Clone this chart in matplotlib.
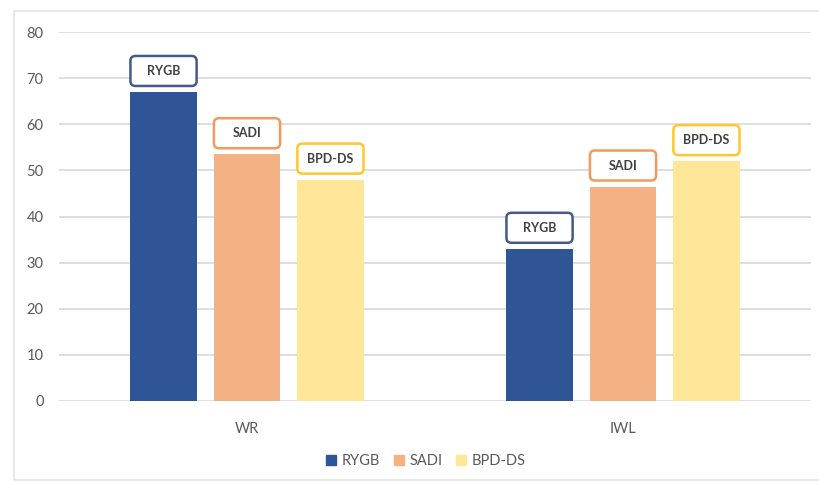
import matplotlib
matplotlib.use("Agg")
import matplotlib.pyplot as plt
from matplotlib.patches import FancyBboxPatch, Rectangle
import numpy as np

plt.rcParams['font.family'] = ['Lato', 'DejaVu Sans']

categories = ["WR", "IWL"]
series = ["RYGB", "SADI", "BPD-DS"]
values = {
    "RYGB": [67, 33],
    "SADI": [53.5, 46.5],
    "BPD-DS": [48, 52],
}
yticks = [0, 10, 20, 30, 40, 50, 60, 70, 80]

fill_colors = {"RYGB": "#2F5597", "SADI": "#F4B183", "BPD-DS": "#FFE699"}
edge_colors = {"RYGB": "#46598A", "SADI": "#F19A5C", "BPD-DS": "#FFC72C"}

W, H = 819, 484
fig = plt.figure(figsize=(W / 100, H / 100), dpi=100)

# light outer frame of the chart area
fig.patches.append(Rectangle((14 / W, 1 - 480 / H), (W + 10 - 14) / W, (480 - 11) / H,
                             transform=fig.transFigure, fill=False,
                             edgecolor="#E3E3E3", linewidth=1.2))

ax = fig.add_axes([59 / W, 1 - 401 / H, (811 - 59) / W, (401 - 32) / H])
ax.set_xlim(-0.5, 1.5)
ax.set_ylim(0, 80)

x = np.arange(len(categories))
step = 0.222
width = 0.176
offsets = [-step, 0, step]

for s, off in zip(series, offsets):
    ax.bar(x + off, values[s], width=width, color=fill_colors[s], zorder=3)

for spine in ax.spines.values():
    spine.set_visible(False)
ax.set_yticks(yticks)
ax.yaxis.grid(True, color="#D9D9D9", linewidth=1.2, zorder=0)
ax.tick_params(axis="both", length=0, labelsize=10.5, labelcolor="#595959")
ax.tick_params(axis="y", pad=11)
ax.tick_params(axis="x", pad=15)
ax.set_xticks(x)
ax.set_xticklabels(categories)

# rounded name boxes above each bar
fig.canvas.draw()
px_x = ax.transData.transform((1, 0))[0] - ax.transData.transform((0, 0))[0]
px_y = ax.transData.transform((0, 1))[1] - ax.transData.transform((0, 0))[1]
box_h = 30 / px_y
gap = 6 / px_y
rad = 5 / px_x
aspect = px_x / px_y
for s, off in zip(series, offsets):
    for xi, v in zip(x, values[s]):
        x0 = xi + off - width / 2
        y0 = v + gap
        patch = FancyBboxPatch((x0, y0), width, box_h,
                               boxstyle=f"round,pad=0,rounding_size={rad}",
                               mutation_aspect=aspect,
                               facecolor="white", edgecolor=edge_colors[s],
                               linewidth=1.8, zorder=4)
        ax.add_patch(patch)
        ax.text(xi + off, y0 + box_h / 2, s, ha="center", va="center",
                fontsize=9, fontweight="bold", color="#404040", zorder=5)

handles = [Rectangle((0, 0), 1, 1, color=fill_colors[s]) for s in series]
fig.legend(handles, series, loc="center", bbox_to_anchor=(426 / W, 1 - 461 / H),
           ncol=3, frameon=False, fontsize=10.5, handlelength=0.7, handleheight=0.7,
           handletextpad=0.4, columnspacing=0.9, labelcolor="#595959")

fig.savefig("out.png", dpi=100)
